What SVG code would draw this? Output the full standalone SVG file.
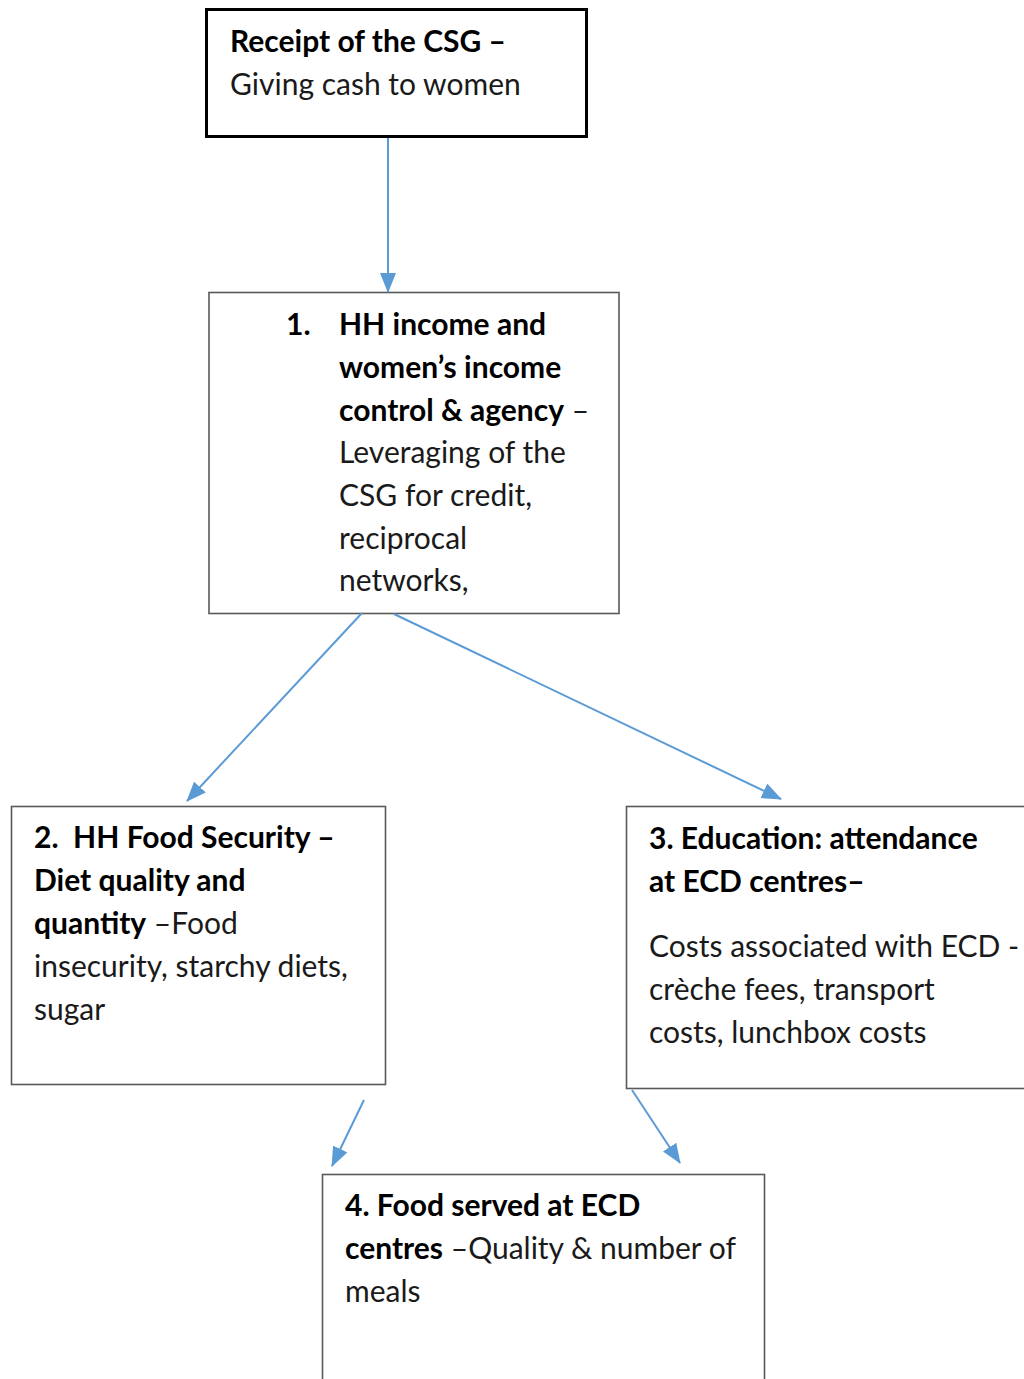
<svg xmlns="http://www.w3.org/2000/svg" width="1024" height="1379" viewBox="0 0 1024 1379">
<style>
text{font-family:Lato,"Open Sans","Liberation Sans",sans-serif;font-size:30px;fill:#1a1a1a}
.b{font-weight:bold;fill:#000}
.box{fill:#fff;stroke:#595959;stroke-width:1.6}
</style>
<defs>
<marker id="ah2" markerWidth="20" markerHeight="16" refX="19" refY="8" orient="auto" markerUnits="userSpaceOnUse" viewBox="0 0 20 16">
<path d="M0,0 L20,8 L0,16 Z" fill="#5B9BD5"/>
</marker>
</defs>
<rect width="1024" height="1379" fill="#fff"/>
<g id="n0">
<rect x="206.5" y="9.5" width="380" height="127" fill="#fff" stroke="#000" stroke-width="3"/>
<text x="230" y="52" class="b">Receipt of the CSG –</text>
<text x="230" y="95">Giving cash to women</text>
</g>
<g id="n1">
<rect class="box" x="209" y="292.5" width="410" height="321"/>
<text x="286" y="335" class="b">1.</text>
<text x="339" y="335" class="b">HH income and</text>
<text x="339" y="378" class="b">women’s income</text>
<text x="339" y="421"><tspan class="b">control &amp; agency</tspan> –</text>
<text x="339" y="463">Leveraging of the</text>
<text x="339" y="506">CSG for credit,</text>
<text x="339" y="549">reciprocal</text>
<text x="339" y="591">networks,</text>
</g>
<g id="n2">
<rect class="box" x="11.5" y="806.5" width="374" height="278"/>
<text x="34" y="848" class="b" xml:space="preserve">2.  HH Food Security –</text>
<text x="34" y="891" class="b">Diet quality and</text>
<text x="34" y="934"><tspan class="b">quantity</tspan> –Food</text>
<text x="34" y="977">insecurity, starchy diets,</text>
<text x="34" y="1020">sugar</text>
</g>
<g id="n3">
<rect class="box" x="626.5" y="806.5" width="410" height="282"/>
<text x="649" y="849" class="b">3. Education: attendance</text>
<text x="649" y="892" class="b">at ECD centres–</text>
<text x="649" y="957">Costs associated with ECD -</text>
<text x="649" y="1000">crèche fees, transport</text>
<text x="649" y="1043">costs, lunchbox costs</text>
</g>
<g id="n4">
<rect class="box" x="322.5" y="1174.5" width="442" height="220"/>
<text x="345" y="1216" class="b">4. Food served at ECD</text>
<text x="345" y="1259"><tspan class="b">centres</tspan> –Quality &amp; number of</text>
<text x="345" y="1302">meals</text>
</g>
<g id="connectors" stroke="#5B9BD5" stroke-width="2" fill="none">
<line x1="388" y1="138" x2="388" y2="292" marker-end="url(#ah2)"/>
<line x1="362" y1="613" x2="187" y2="801" marker-end="url(#ah2)"/>
<line x1="394" y1="614" x2="781" y2="799" marker-end="url(#ah2)"/>
<line x1="364" y1="1100" x2="332" y2="1166" marker-end="url(#ah2)"/>
<line x1="632" y1="1090" x2="680" y2="1163" marker-end="url(#ah2)"/>
</g>
</svg>
